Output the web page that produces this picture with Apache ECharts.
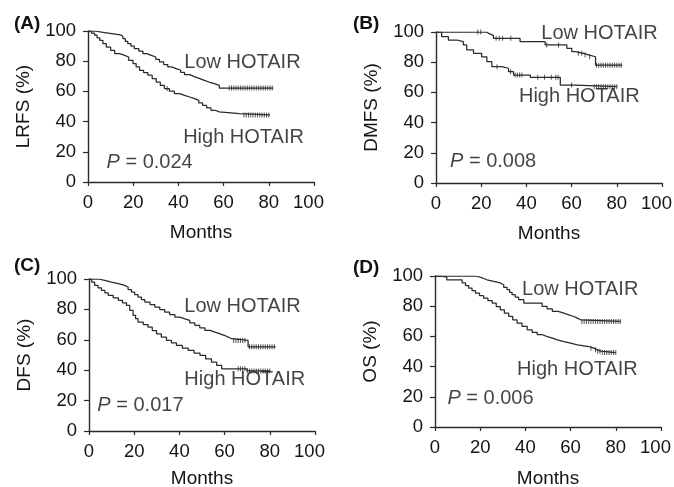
<!DOCTYPE html>
<html><head><meta charset="utf-8">
<script src="https://cdn.jsdelivr.net/npm/echarts/dist/echarts.min.js"></script>
<style>html,body{margin:0;padding:0;background:#fff}#c{width:674px;height:487px}</style>
</head><body><div id="c"></div><script>
// ---- Data ----
const xTicks = [0, 20, 40, 60, 80, 100];
const yTicks = [0, 20, 40, 60, 80, 100];

// (A) LRFS
const lrfsLow = [[0,100],[3,99.2],[6,98.3],[10.5,97.4],[14.5,96.5],[15.4,95],[16.5,93.2],[17.6,91.6],[19,90],[20.5,88.3],[22.5,86.6],[24.3,85],[26,83.9],[28,82.8],[30,81.2],[31.6,79.5],[33.5,77.8],[35.3,76.2],[37,75.1],[39,74],[41,72.6],[42.7,71.1],[45,69.8],[47,68.5],[49.5,67.3],[51.5,66.2],[53.5,65.1],[55.9,64],[58.1,62.2],[82,62.2]];
const lrfsHigh = [[0,100],[1.5,98.6],[2.9,97.2],[4,95.5],[5.2,93.8],[6.6,91.6],[8.1,89.4],[10,87.2],[11.8,85],[14,83.9],[16.2,82.8],[18,80.6],[19.9,78.4],[21.3,76.2],[22.8,74],[24.6,72.4],[26.5,70.7],[28.4,68.5],[30.2,66.2],[32,64],[33.8,61.9],[36,60.2],[38.2,58.5],[40.5,57.4],[42.7,56.3],[45,55.2],[47.1,54.1],[49,52.4],[50.7,50.8],[52.5,49.1],[54.4,47.5],[56.2,46.4],[58.1,45.3],[67,44.4],[80.5,44.4]];
const lrfsLowCens = [62.5,63.5,64.5,65.5,66.5,67.5,68.5,69.5,70.5,71.5,72.5,73.5,74.5,75.5,76.5,77.5,78.5,79.5,80.5,81.5];
const lrfsHighCens = [35,69,70,71,72,73,74,75,76,77,78,79,80];

// (B) DMFS
const dmfsLow = [[0,100],[22.5,98.9],[23.5,97.8],[25.4,95.8],[37.2,93.6],[48.3,91.4],[57.9,89.2],[60.1,87],[61.6,85.9],[65.3,84.8],[67.5,83.6],[70.6,78],[82.4,78]];
const dmfsHigh = [[0,100],[2.5,96.9],[5.5,94.7],[9.2,93.6],[12.1,91.4],[13.6,88.1],[16.6,85.9],[20.2,83.6],[22.5,80.3],[24.7,77],[29.1,76],[32.1,73.7],[34.3,71.5],[41.7,70],[55,64.9],[61.6,63.8],[80.2,63.8]];
const dmfsLowCens = [18.5,19.8,26.6,28,29.5,33.1,49,54.2,63,64.5,66,68,71,72,73,74,75,76,77,78,79,80,81,82];
const dmfsHighCens = [27,33,35,36,37,38,45,48,51,53,54,60,70,71,72,73,74,75,76,77,78,79,80];

// (C) DFS
const dfsLow = [[0,100],[4,99.1],[7,98],[9.9,96.9],[13,95.8],[15.8,94.7],[17.3,93],[18.8,91.4],[20.2,89.7],[21.7,88.1],[23.2,86.5],[24.7,84.8],[27,83.2],[29.1,81.5],[31.3,79.9],[33.5,78.2],[35.7,76.6],[38,74.9],[40.2,73.8],[42.4,72.8],[44.6,71.2],[46.8,69.5],[49,67.9],[51.3,66.2],[53.5,65],[55.7,63.9],[58,62.8],[60.1,61.8],[61.6,60.7],[63.1,59.6],[70.4,55.4],[82.6,55.4]];
const dfsHigh = [[0,100],[1.2,97.9],[2.5,95.8],[4,94.1],[5.5,92.5],[7,90.9],[8.5,89.3],[10.7,87.6],[13,86],[14.8,84.3],[16.6,82.7],[18,79.4],[19.5,76.1],[20.6,73.9],[21.7,71.7],[24,70],[26.1,68.4],[28,66.1],[29.9,63.9],[32,61.7],[34.3,59.6],[36.5,57.9],[38.7,56.3],[41.3,54.6],[43.9,53],[46.5,51.3],[49.1,49.7],[51.6,47.5],[54.2,45.3],[56.5,43.1],[58.7,40.9],[70,39.5],[80,39.5]];
const dfsLowCens = [64,65,66,67,68,69,71,72,73,74,75,76,77,78,79,80,81,82];
const dfsHighCens = [66,67,68,69,70,71,72,73,74,75,76,77,78,79,80];

// (D) OS
const osLow = [[0,100],[18,98.7],[21,97.5],[23,96.5],[26,95.4],[28.9,94.2],[30.4,92.5],[31.9,90.9],[33,89.2],[34.1,87.6],[35.5,86],[37,84.3],[39.3,82.1],[47.4,79.9],[49.6,78.2],[51.9,76.6],[54.5,75.4],[57,74.3],[59.2,73.2],[61.4,72.1],[63,71],[64.4,69.9],[82.1,69.9]];
const osHigh = [[0,100],[2.3,99.3],[5.2,97.5],[12,95.4],[13.5,93.7],[14.9,92],[16.4,90.3],[17.9,88.7],[19.7,87],[21.5,85.3],[23.4,83.7],[25.3,82.1],[27.1,79.8],[28.9,77.6],[30.7,75.4],[32.6,73.2],[34.4,71],[36.3,68.8],[38.5,66.6],[40.8,64.4],[43,62.7],[45.2,61.1],[47.5,59.9],[49.7,58.8],[52,57.7],[54.1,56.6],[57,55.5],[60,54.4],[63,53.8],[65.9,53.3],[68,52.2],[70.3,51.1],[71.8,50.2],[73.3,49.3],[79.9,49.3]];
const osLowCens = [65,66,67,68,69,70,71,72,73,74,75,76,77,78,79,80,81,82];
const osHighCens = [69,71,72,73,74,75,76,77,78,79,80];

const panelLetters = ['(A)', '(B)', '(C)', '(D)'];
const yNames = ['LRFS (%)', 'DMFS (%)', 'DFS (%)', 'OS (%)'];
const pValues = ['0.024', '0.008', '0.017', '0.006'];
const xName = 'Months';
const lowLabel = 'Low HOTAIR';
const highLabel = 'High HOTAIR';

// ---- Layout (positions / styles) ----
const grids = [
  {left: 88, top: 31, width: 226, height: 151},
  {left: 436, top: 32, width: 226, height: 151},
  {left: 89, top: 279, width: 226, height: 152},
  {left: 435, top: 276, width: 226, height: 151}
];
const xNameGaps = [41, 41, 38, 42];
const letterPos = [[14, 14], [353, 14], [14, 256], [353, 258]];
const labelAnchors = [
  {low: [42.6, 79.3], high: [42.1, 29.6], p: [8.2, 13]},
  {low: [46.6, 99.1], high: [36.7, 57.2], p: [6.2, 14.1]},
  {low: [42.2, 82], high: [42.2, 33.6], p: [3.7, 17.1]},
  {low: [38.5, 91.1], high: [36.3, 38], p: [5.5, 19.2]}
];

const FONT = "'Liberation Sans', Arial, Helvetica, sans-serif";
const INK = '#141414';
const LINE = '#2a2a2a';

const curves = [
  [lrfsLow, lrfsHigh, lrfsLowCens, lrfsHighCens],
  [dmfsLow, dmfsHigh, dmfsLowCens, dmfsHighCens],
  [dfsLow, dfsHigh, dfsLowCens, dfsHighCens],
  [osLow, osHigh, osLowCens, osHighCens]
];

function stepAt(data, t) {
  let v = data[0][1];
  for (const p of data) { if (p[0] <= t) v = p[1]; else break; }
  return v;
}

const xAxis = [], yAxis = [], series = [], title = [];
grids.forEach((g, i) => {
  xAxis.push({
    type: 'value', gridIndex: i, min: 0, max: 100, interval: 20,
    name: xName, nameLocation: 'middle', nameGap: xNameGaps[i],
    nameTextStyle: {fontFamily: FONT, fontSize: 19, color: INK},
    axisLine: {show: true, lineStyle: {color: LINE, width: 1.4}},
    axisTick: {show: true, length: 4, lineStyle: {color: LINE, width: 1.2}},
    axisLabel: {fontFamily: FONT, fontSize: 18.5, color: INK, margin: 11, showMaxLabel: true, showMinLabel: true,
      formatter: v => v === xTicks[xTicks.length - 1] ? '{m|' + v + '}' : String(v),
      rich: {m: {fontFamily: FONT, fontSize: 18.5, color: INK, padding: [0, 11, 0, 0]}}},
    splitLine: {show: false}
  });
  yAxis.push({
    type: 'value', gridIndex: i, min: 0, max: 100, interval: 20,
    name: yNames[i], nameLocation: 'middle', nameGap: 55, nameRotate: 90,
    nameTextStyle: {fontFamily: FONT, fontSize: 19, color: INK},
    axisLine: {show: true, lineStyle: {color: LINE, width: 1.4}},
    axisTick: {show: true, length: 5, lineStyle: {color: LINE, width: 1.2}},
    axisLabel: {fontFamily: FONT, fontSize: 18.5, color: INK, margin: 12},
    splitLine: {show: false}
  });
  const [low, high, lowC, highC] = curves[i];
  [low, high].forEach(d => series.push({
    type: 'line', xAxisIndex: i, yAxisIndex: i, data: d, step: 'end',
    symbol: 'none', lineStyle: {color: LINE, width: 1.25}, animation: false, silent: true
  }));
  [[lowC, low], [highC, high]].forEach(([cs, d]) => series.push({
    type: 'scatter', xAxisIndex: i, yAxisIndex: i,
    data: cs.map(t => [t, stepAt(d, t)]),
    symbol: 'rect', symbolSize: [1, 5], itemStyle: {color: LINE}, animation: false, silent: true
  }));
  const a = labelAnchors[i];
  series.push({
    type: 'scatter', xAxisIndex: i, yAxisIndex: i, symbolSize: 0, animation: false, silent: true,
    data: [
      {value: a.low, label: {formatter: lowLabel}},
      {value: a.high, label: {formatter: highLabel}},
      {value: a.p, label: {formatter: '{i|P} = ' + pValues[i]}}
    ],
    label: {show: true, position: 'right', distance: 0, fontFamily: FONT, fontSize: 20, color: INK,
      rich: {i: {fontStyle: 'italic', fontFamily: FONT, fontSize: 20, color: INK}}}
  });
  title.push({text: panelLetters[i], left: letterPos[i][0], top: letterPos[i][1], padding: 0,
    textStyle: {fontFamily: FONT, fontSize: 19, fontWeight: 'bold', color: '#111'}});
});

const chart = echarts.init(document.getElementById('c'), null, {renderer: 'canvas'});
chart.setOption({
  backgroundColor: '#fff',
  animation: false,
  title: title,
  grid: grids.map(g => Object.assign({containLabel: false, outerBoundsMode: 'none'}, g)),
  xAxis: xAxis, yAxis: yAxis, series: series
});
</script></body></html>
